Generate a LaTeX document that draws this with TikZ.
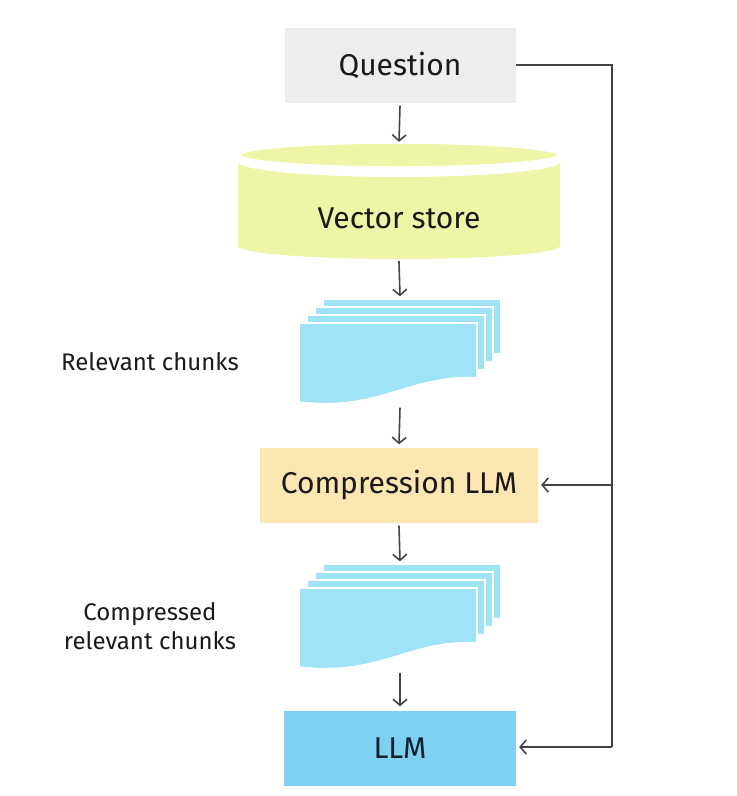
\documentclass[tikz,border=0pt]{standalone}
\usepackage{fontspec}
\setmainfont{Fira Sans}
\usetikzlibrary{arrows.meta}
\definecolor{qgray}{HTML}{EDEDEB}
\definecolor{cylyel}{HTML}{EFF5A6}
\definecolor{compor}{HTML}{FCE6B1}
\definecolor{llmblue}{HTML}{7DD0F0}
\definecolor{sheetblue}{HTML}{9FE3F7}
\definecolor{linegray}{HTML}{444444}
\definecolor{txt}{HTML}{1A1A1A}
\definecolor{llmtxt}{HTML}{10202E}
\tikzset{
  boxnode/.style={inner sep=0pt, text=txt, font=\fontsize{30}{36}\selectfont},
  ghost/.style={inner sep=0pt, minimum width=#1},
  lbl/.style={inner sep=0pt, text=txt, align=center, font=\fontsize{24}{29}\selectfont},
  arr/.style={draw=linegray, line width=1.6pt, -{Straight Barb[length=6pt,width=14pt,line width=1.6pt]}},
  conn/.style={draw=linegray, line width=1.6pt},
  sheet/.style={fill=sheetblue, draw=white, line width=1.6pt, line join=miter},
}
\newcommand{\docsheet}[2]{%
  \path[sheet] (#1+299,#2-323) -- (#1+477,#2-323) -- (#1+477,#2-378)
    .. controls (#1+410,#2-374) and (#1+380,#2-412) .. (#1+299,#2-402) -- cycle;}
\begin{document}
\begin{tikzpicture}[x=1pt,y=1pt]
\useasboundingbox (0,0) rectangle (737,-796);
% Question
\node[boxnode, fill=qgray, minimum width=231pt, minimum height=75pt] (question) at (400,-65) {Question};
% Vector store cylinder
\fill[cylyel] (238,-162) -- (238,-246) arc[start angle=180,end angle=360,x radius=161,y radius=13]
  -- (560,-162) arc[start angle=0,end angle=-180,x radius=161,y radius=15] -- cycle;
\filldraw[fill=cylyel, draw=white, line width=3.5pt] (399,-155) ellipse[x radius=161,y radius=13];
\node[boxnode, minimum width=322pt, minimum height=118pt] (vs) at (399,-200) {};
\node[boxnode] (vstext) at (399,-218) {Vector store};
% Relevant chunks stack
\docsheet{24}{24}
\docsheet{16}{16}
\docsheet{8}{8}
\docsheet{0}{0}
\node[ghost=202pt, minimum height=105pt] (chunks) at (400,-352) {};
\node[lbl] (chunkslbl) at (150,-362) {Relevant chunks};
% Compression LLM
\node[boxnode, fill=compor, minimum width=278pt, minimum height=75pt] (comp) at (399,-485) {Compression LLM};
% Compressed chunks stack
\docsheet{24}{-241}
\docsheet{16}{-249}
\docsheet{8}{-257}
\docsheet{0}{-265}
\node[ghost=202pt, minimum height=105pt] (cchunks) at (400,-617) {};
\node[lbl] (cchunkslbl) at (150,-626) {Compressed\\relevant chunks};
% LLM
\node[boxnode, fill=llmblue, minimum width=232pt, minimum height=75pt, text=llmtxt] (llm) at (400,-748) {LLM};
% vertical arrows
\draw[arr] ([yshift=-3pt]question.south) -- ([yshift=-1pt]vs.north);
\draw[arr] ([yshift=-2pt]vs.south) -- ([yshift=3pt]chunks.north);
\draw[arr] ([yshift=-3pt]chunks.south) -- ([yshift=3pt]comp.north);
\draw[arr] ([yshift=-3pt]comp.south) -- ([yshift=3pt]cchunks.north);
\draw[arr] ([yshift=-3pt]cchunks.south) -- ([yshift=4pt]llm.north);
% side connector
\coordinate (corner) at (612,-65);
\coordinate (branch) at (612,-485);
\coordinate (bottom) at (612,-747);
\draw[conn] (question.east) -- (corner) -- (bottom);
\draw[arr] (branch) -- ([xshift=3pt]comp.east);
\draw[arr] (bottom) -- ([xshift=3pt]llm.east |- bottom);
\end{tikzpicture}
\end{document}
